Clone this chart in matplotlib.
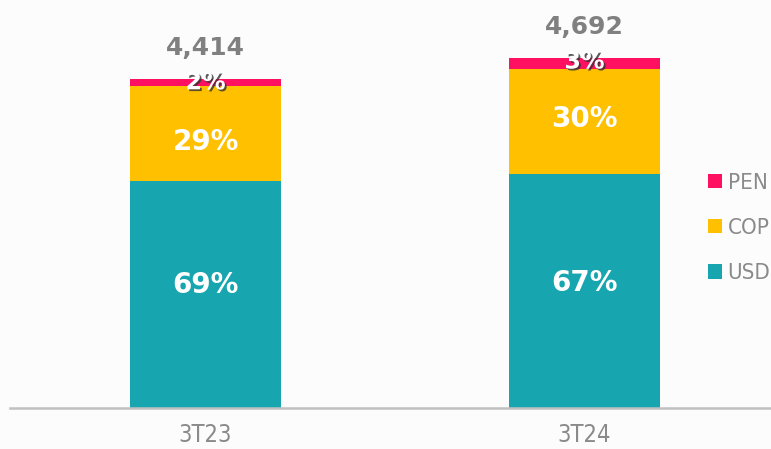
import matplotlib
matplotlib.use("Agg")
import matplotlib.pyplot as plt
import matplotlib.patheffects as pe
import numpy as np

categories = ["3T23", "3T24"]
totals = [4414, 4692]
series = ["USD", "COP", "PEN"]
shares = {
    "USD": [69, 67],
    "COP": [29, 30],
    "PEN": [2, 3],
}
colors = {"USD": "#17A5B0", "COP": "#FFC000", "PEN": "#FF1060"}
# vertical nudges (points) for in-bar labels, per series/category
nudge = {"USD": [6.5, 6.0], "COP": [-6.5, 1.5], "PEN": [0.0, 1.5]}

W, H = 771, 449
fig = plt.figure(figsize=(W / 100, H / 100), dpi=100, facecolor="#fcfcfc")
ax = fig.add_axes([10 / W, (H - 408) / H, 1 - 10 / W, 408 / H])
ax.set_facecolor("#fcfcfc")

cond = dict(family="DejaVu Sans", stretch="condensed")

x = np.arange(len(categories))
tot = np.array(totals, dtype=float)
bottom = np.zeros(len(categories))
handles = {}
for s in series:
    vals = tot * np.array(shares[s]) / 100.0
    b = ax.bar(x, vals, width=0.4, bottom=bottom, color=colors[s], label=s, zorder=2)
    handles[s] = b
    for i in range(len(categories)):
        yc = bottom[i] + vals[i] / 2
        txt = f"{shares[s][i]}%"
        if s == "PEN":
            ax.annotate(txt, (x[i], yc), xytext=(0, nudge[s][i]), textcoords="offset points",
                        ha="center", va="center", color="white",
                        fontsize=17, fontweight="bold", family="DejaVu Sans", zorder=4,
                        path_effects=[pe.withSimplePatchShadow(offset=(1.3, -1.3), shadow_rgbFace="#333333", alpha=0.8)])
        else:
            ax.annotate(txt, (x[i], yc), xytext=(0, nudge[s][i]), textcoords="offset points",
                        ha="center", va="center", color="white",
                        fontsize=20, fontweight="bold", family="DejaVu Sans", zorder=4)
    bottom = bottom + vals

for i in range(len(categories)):
    ax.annotate(f"{totals[i]:,}", (x[i], tot[i]), xytext=(0, 14), textcoords="offset points",
                ha="center", va="bottom", color="#808080", fontsize=18, fontweight="bold",
                family="DejaVu Sans")

ax.set_xlim(-0.516, 1.492)
ax.set_ylim(0, 408 / 329 * 4414)
for sp in ["top", "right", "left"]:
    ax.spines[sp].set_visible(False)
ax.spines["bottom"].set_color("#c0c0c0")
ax.spines["bottom"].set_linewidth(1.8)
ax.set_yticks([])
ax.set_xticks(x)
ax.set_xticklabels(categories, fontsize=17, color="#8a8a8a", **cond)
ax.tick_params(axis="x", length=0, pad=11)

leg = fig.legend([handles["PEN"], handles["COP"], handles["USD"]], ["PEN", "COP", "USD"],
                 loc="center left", bbox_to_anchor=(697 / W, 1 - 228 / H), frameon=False,
                 prop={"family": "DejaVu Sans", "stretch": "condensed", "size": 16},
                 borderpad=0, handlelength=0.63, handleheight=0.63, handletextpad=0.25,
                 labelspacing=1.13)
for t in leg.get_texts():
    t.set_color("#8a8a8a")

fig.savefig("out.png", dpi=100, facecolor=fig.get_facecolor())
